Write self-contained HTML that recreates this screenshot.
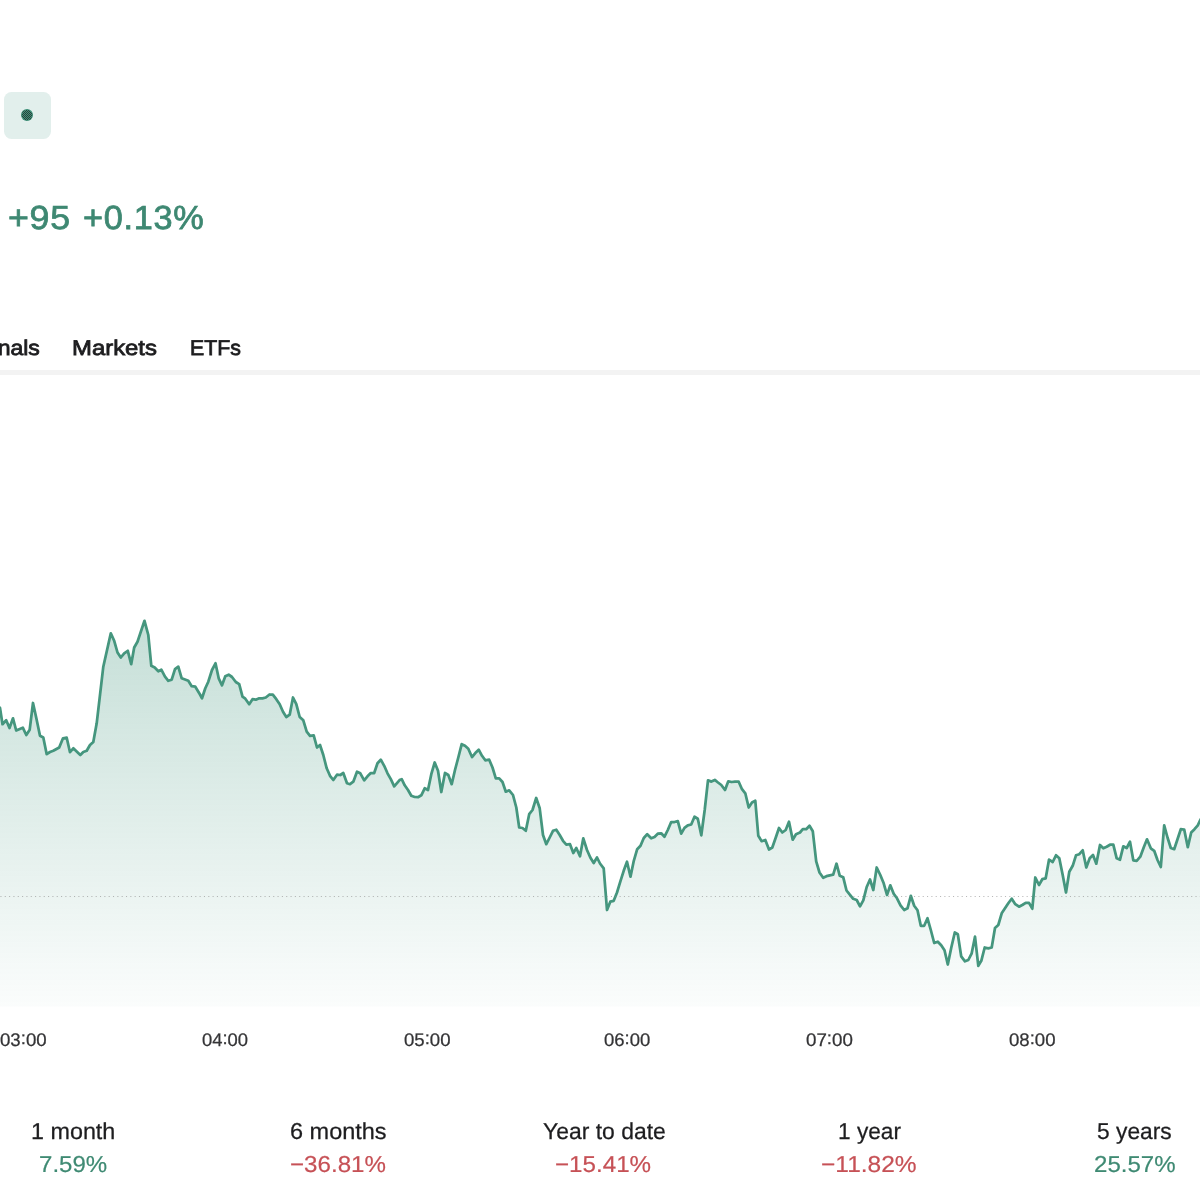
<!DOCTYPE html>
<html lang="en">
<head>
<meta charset="utf-8">
<title>Chart</title>
<style>
  html, body { margin: 0; padding: 0; background: #ffffff; }
  body { width: 1200px; height: 1200px; overflow: hidden; position: relative;
         font-family: "Liberation Sans", sans-serif; color: #1c1c1e; }
  .abs { position: absolute; white-space: nowrap; text-rendering: geometricPrecision; }
  #L { position: absolute; left: 0; top: 0; width: 1200px; height: 1200px; will-change: transform; }
  .badge { left: 4px; top: 92px; width: 47px; height: 46.7px; border-radius: 7.5px; background: #e2efec; }
  .badge i { position: absolute; left: 17.5px; top: 17.7px; width: 11.6px; height: 11.6px; border-radius: 50%; background: #3a6c5e; }
  .change { top: 199.6px; letter-spacing: 0.7px; font-size: 33.4px; line-height: 37px; color: #3e8872; -webkit-text-stroke: 0.75px #3e8872; transform-origin: 0 50%; }
  .tab { top: 336px; font-size: 21.3px; line-height: 24px; color: #1d1d1f; -webkit-text-stroke: 0.8px #1d1d1f; transform-origin: 0 50%; }
  .rule { left: 0; top: 370px; width: 1200px; height: 5px; background: #f3f3f3; }
  .tick { top: 1029.5px; transform-origin: 0 50%; font-size: 18.2px; line-height: 20px; color: #343436; -webkit-text-stroke: 0.25px #343436; }
  .tick b { font-weight: normal; position: relative; top: -1.7px; }
      .lab { top: 1119.2px; transform-origin: 0 50%; font-size: 23px; line-height: 24px; color: #1d1d1f; -webkit-text-stroke: 0.25px #1d1d1f; }
  .val { top: 1152.1px; transform-origin: 0 50%; font-size: 23px; line-height: 24px; }
  .g { color: #3f8a73; -webkit-text-stroke: 0.2px #3f8a73; }
  .r { color: #c65156; -webkit-text-stroke: 0.2px #c65156; }
  svg { position: absolute; left: 0; top: 0; }
</style>
</head>
<body>
<div id="L">
<div class="abs badge"><svg width="14" height="14" viewBox="0 0 14 14" style="left:16.45px;top:15.9px">
  <defs><pattern id="dz" width="2" height="2" patternUnits="userSpaceOnUse"><rect width="2" height="2" fill="#3f947b"/><rect x="0" y="0" width="1" height="1" fill="#2b3e39" shape-rendering="crispEdges"/><rect x="1" y="1" width="1" height="1" fill="#2b3e39" shape-rendering="crispEdges"/></pattern></defs>
  <circle cx="7" cy="7" r="6" fill="#3f947b"/><circle cx="7" cy="7" r="5.3" fill="url(#dz)"/></svg></div>

<div class="abs tab" id="t1" style="right:1160px;transform-origin:100% 50%;transform:scaleX(1.08)">Signals</div>
<div class="abs rule"></div>

<svg width="1200" height="1200" viewBox="0 0 1200 1200">
  <defs>
    <linearGradient id="fill" gradientUnits="userSpaceOnUse" x1="0" y1="620" x2="0" y2="1006.5">
      <stop offset="0" stop-color="#3f947b" stop-opacity="0.30"/>
      <stop offset="1" stop-color="#3f947b" stop-opacity="0.022"/>
    </linearGradient>
  </defs>
  <path d="M-2.0,706.0 L0.0,708.0 L2.5,724.2 L6.2,720.3 L9.5,728.0 L13.0,718.3 L16.2,730.5 L22.8,727.7 L26.3,735.0 L29.7,729.7 L33.0,703.0 L36.5,719.0 L40.0,735.8 L43.3,737.5 L46.7,754.2 L50.0,752.0 L53.3,750.8 L59.2,747.5 L63.0,738.3 L66.7,737.7 L70.0,752.2 L73.3,748.3 L80.3,755.0 L83.3,752.0 L86.7,750.8 L90.0,745.0 L93.3,742.0 L96.7,723.3 L103.3,666.7 L110.8,633.3 L114.2,640.8 L117.5,652.5 L120.8,657.5 L124.2,653.3 L127.8,650.8 L131.2,664.2 L134.2,647.5 L137.5,641.7 L144.5,620.8 L148.3,635.0 L151.3,665.8 L154.7,667.5 L158.3,671.3 L161.3,669.7 L165.0,676.7 L168.3,680.8 L171.7,679.7 L175.0,669.2 L178.3,666.7 L181.7,678.3 L188.3,680.8 L191.7,686.2 L195.3,686.7 L200.0,694.5 L202.0,698.3 L205.3,688.3 L208.3,681.7 L212.0,670.0 L215.5,663.3 L218.7,678.3 L222.0,685.3 L225.3,676.3 L228.7,674.7 L232.0,677.0 L235.8,682.0 L239.2,684.2 L242.5,696.7 L245.3,698.7 L249.2,704.2 L252.5,699.2 L255.8,699.7 L259.2,698.3 L262.5,698.3 L265.8,697.5 L269.5,694.5 L272.8,694.7 L276.3,699.2 L279.7,704.2 L283.0,711.7 L286.3,717.0 L289.7,714.7 L293.0,697.5 L296.3,704.2 L299.7,717.0 L303.3,720.3 L306.7,731.7 L310.0,735.8 L313.7,735.3 L317.0,747.5 L320.0,745.0 L323.3,755.0 L326.7,768.3 L330.0,775.8 L333.3,780.0 L337.0,774.7 L340.3,775.0 L343.3,773.0 L347.0,783.3 L350.0,784.2 L353.3,781.7 L357.0,771.7 L360.3,773.3 L364.2,780.3 L367.5,776.3 L370.8,773.0 L374.2,773.0 L377.5,763.3 L380.8,759.7 L384.2,765.8 L387.5,773.3 L390.8,779.2 L394.2,786.3 L400.0,779.7 L401.7,779.2 L404.7,785.3 L408.0,790.0 L411.3,795.8 L414.7,797.0 L418.0,797.2 L421.3,795.3 L424.7,788.3 L428.0,790.0 L431.3,774.2 L434.7,762.5 L438.0,770.8 L441.3,792.0 L445.0,773.0 L448.3,775.0 L451.7,784.2 L455.0,770.0 L458.3,757.5 L461.7,744.2 L465.0,745.8 L468.3,748.7 L472.0,757.0 L475.3,753.0 L478.7,749.7 L482.0,755.8 L485.3,760.3 L489.2,759.7 L492.5,767.5 L495.8,778.3 L499.2,778.3 L502.5,782.0 L505.8,791.7 L509.2,790.3 L513.0,795.0 L516.3,807.5 L519.2,827.5 L522.5,828.0 L525.8,830.8 L529.2,814.2 L532.5,810.0 L536.2,798.0 L539.7,808.3 L543.0,835.0 L546.3,844.2 L549.7,837.5 L553.0,830.8 L556.3,829.7 L559.7,835.0 L563.0,840.8 L566.3,844.7 L570.0,844.2 L573.3,853.0 L576.3,848.0 L580.0,856.3 L583.3,838.3 L587.0,850.0 L590.3,857.5 L593.7,863.0 L597.0,857.5 L600.0,863.5 L603.7,868.3 L607.0,910.0 L610.3,901.7 L613.7,900.8 L617.0,892.5 L620.3,881.7 L623.7,870.8 L627.0,861.7 L630.5,876.7 L633.8,860.8 L637.2,849.2 L640.5,845.8 L643.8,838.0 L647.2,834.2 L651.2,838.3 L654.5,837.0 L657.8,833.7 L661.2,833.3 L664.5,836.7 L667.8,830.0 L671.2,822.0 L674.5,822.0 L677.8,821.2 L681.2,833.7 L684.5,827.8 L687.8,825.3 L691.2,824.5 L694.5,816.7 L697.8,818.7 L701.3,835.3 L704.7,810.0 L708.0,780.3 L711.4,781.6 L714.8,779.9 L718.0,782.5 L721.3,785.0 L725.0,790.0 L728.3,781.3 L731.7,782.0 L735.0,781.7 L738.7,781.7 L742.0,789.2 L745.3,793.3 L748.7,807.5 L752.0,802.5 L755.3,800.8 L758.3,835.8 L761.7,841.2 L765.3,840.0 L769.0,849.5 L772.3,847.5 L775.7,837.8 L779.0,828.0 L782.3,832.5 L785.7,830.0 L789.0,821.7 L792.7,839.7 L796.0,834.2 L800.0,832.5 L802.8,829.2 L806.2,829.2 L809.5,825.8 L812.8,831.3 L816.2,861.3 L819.5,872.5 L823.2,877.8 L826.5,876.2 L829.8,875.3 L833.2,874.7 L836.5,863.7 L839.8,875.8 L843.2,877.2 L846.5,890.5 L849.8,894.7 L853.2,898.8 L856.7,900.0 L860.0,906.3 L863.3,900.3 L866.7,887.0 L870.0,879.5 L873.3,890.0 L876.7,867.5 L880.3,875.0 L883.7,883.3 L887.0,895.0 L890.3,885.3 L893.7,893.7 L897.0,898.3 L900.5,905.3 L904.2,910.0 L907.5,908.3 L910.8,895.8 L914.2,905.8 L917.5,910.3 L920.8,925.8 L924.2,925.8 L927.5,918.3 L930.8,930.0 L934.2,943.0 L937.8,941.7 L941.2,945.3 L944.5,950.3 L947.8,964.5 L951.2,948.0 L954.8,932.5 L957.8,934.2 L961.2,956.3 L965.0,961.3 L968.3,960.0 L971.7,953.3 L975.0,936.7 L978.3,965.8 L981.3,960.8 L984.7,947.5 L988.3,948.3 L991.7,947.5 L995.0,928.0 L998.3,925.0 L1001.7,913.3 L1005.0,908.3 L1008.3,903.3 L1011.7,898.7 L1015.3,904.2 L1019.0,906.7 L1022.3,905.0 L1025.7,902.8 L1029.0,902.8 L1032.3,908.7 L1035.3,877.5 L1039.0,885.0 L1042.3,879.2 L1045.7,878.3 L1049.0,859.7 L1052.7,862.0 L1056.0,855.3 L1059.3,858.3 L1062.7,875.0 L1066.0,892.5 L1069.3,871.7 L1072.7,865.8 L1076.0,855.3 L1079.3,854.2 L1082.7,850.3 L1086.3,867.5 L1089.7,858.3 L1093.0,855.0 L1096.3,863.7 L1100.0,845.0 L1103.3,848.3 L1106.7,846.7 L1110.0,844.7 L1113.3,844.7 L1116.7,858.3 L1120.0,859.7 L1123.3,846.3 L1126.7,848.0 L1130.0,841.7 L1133.3,860.3 L1136.7,860.8 L1140.3,856.7 L1143.7,847.5 L1147.0,839.3 L1150.8,848.3 L1154.2,850.8 L1157.5,860.0 L1160.8,867.0 L1164.2,825.4 L1167.5,837.5 L1170.8,848.0 L1174.2,849.2 L1177.5,839.2 L1180.8,829.2 L1184.2,829.5 L1187.8,847.2 L1191.2,832.5 L1194.5,829.2 L1197.8,825.3 L1200.0,820.6 L1203.0,815.0 L1203,1006.5 L-2,1006.5 Z" fill="url(#fill)" stroke="none"/>
  <path d="M-2.0,706.0 L0.0,708.0 L2.5,724.2 L6.2,720.3 L9.5,728.0 L13.0,718.3 L16.2,730.5 L22.8,727.7 L26.3,735.0 L29.7,729.7 L33.0,703.0 L36.5,719.0 L40.0,735.8 L43.3,737.5 L46.7,754.2 L50.0,752.0 L53.3,750.8 L59.2,747.5 L63.0,738.3 L66.7,737.7 L70.0,752.2 L73.3,748.3 L80.3,755.0 L83.3,752.0 L86.7,750.8 L90.0,745.0 L93.3,742.0 L96.7,723.3 L103.3,666.7 L110.8,633.3 L114.2,640.8 L117.5,652.5 L120.8,657.5 L124.2,653.3 L127.8,650.8 L131.2,664.2 L134.2,647.5 L137.5,641.7 L144.5,620.8 L148.3,635.0 L151.3,665.8 L154.7,667.5 L158.3,671.3 L161.3,669.7 L165.0,676.7 L168.3,680.8 L171.7,679.7 L175.0,669.2 L178.3,666.7 L181.7,678.3 L188.3,680.8 L191.7,686.2 L195.3,686.7 L200.0,694.5 L202.0,698.3 L205.3,688.3 L208.3,681.7 L212.0,670.0 L215.5,663.3 L218.7,678.3 L222.0,685.3 L225.3,676.3 L228.7,674.7 L232.0,677.0 L235.8,682.0 L239.2,684.2 L242.5,696.7 L245.3,698.7 L249.2,704.2 L252.5,699.2 L255.8,699.7 L259.2,698.3 L262.5,698.3 L265.8,697.5 L269.5,694.5 L272.8,694.7 L276.3,699.2 L279.7,704.2 L283.0,711.7 L286.3,717.0 L289.7,714.7 L293.0,697.5 L296.3,704.2 L299.7,717.0 L303.3,720.3 L306.7,731.7 L310.0,735.8 L313.7,735.3 L317.0,747.5 L320.0,745.0 L323.3,755.0 L326.7,768.3 L330.0,775.8 L333.3,780.0 L337.0,774.7 L340.3,775.0 L343.3,773.0 L347.0,783.3 L350.0,784.2 L353.3,781.7 L357.0,771.7 L360.3,773.3 L364.2,780.3 L367.5,776.3 L370.8,773.0 L374.2,773.0 L377.5,763.3 L380.8,759.7 L384.2,765.8 L387.5,773.3 L390.8,779.2 L394.2,786.3 L400.0,779.7 L401.7,779.2 L404.7,785.3 L408.0,790.0 L411.3,795.8 L414.7,797.0 L418.0,797.2 L421.3,795.3 L424.7,788.3 L428.0,790.0 L431.3,774.2 L434.7,762.5 L438.0,770.8 L441.3,792.0 L445.0,773.0 L448.3,775.0 L451.7,784.2 L455.0,770.0 L458.3,757.5 L461.7,744.2 L465.0,745.8 L468.3,748.7 L472.0,757.0 L475.3,753.0 L478.7,749.7 L482.0,755.8 L485.3,760.3 L489.2,759.7 L492.5,767.5 L495.8,778.3 L499.2,778.3 L502.5,782.0 L505.8,791.7 L509.2,790.3 L513.0,795.0 L516.3,807.5 L519.2,827.5 L522.5,828.0 L525.8,830.8 L529.2,814.2 L532.5,810.0 L536.2,798.0 L539.7,808.3 L543.0,835.0 L546.3,844.2 L549.7,837.5 L553.0,830.8 L556.3,829.7 L559.7,835.0 L563.0,840.8 L566.3,844.7 L570.0,844.2 L573.3,853.0 L576.3,848.0 L580.0,856.3 L583.3,838.3 L587.0,850.0 L590.3,857.5 L593.7,863.0 L597.0,857.5 L600.0,863.5 L603.7,868.3 L607.0,910.0 L610.3,901.7 L613.7,900.8 L617.0,892.5 L620.3,881.7 L623.7,870.8 L627.0,861.7 L630.5,876.7 L633.8,860.8 L637.2,849.2 L640.5,845.8 L643.8,838.0 L647.2,834.2 L651.2,838.3 L654.5,837.0 L657.8,833.7 L661.2,833.3 L664.5,836.7 L667.8,830.0 L671.2,822.0 L674.5,822.0 L677.8,821.2 L681.2,833.7 L684.5,827.8 L687.8,825.3 L691.2,824.5 L694.5,816.7 L697.8,818.7 L701.3,835.3 L704.7,810.0 L708.0,780.3 L711.4,781.6 L714.8,779.9 L718.0,782.5 L721.3,785.0 L725.0,790.0 L728.3,781.3 L731.7,782.0 L735.0,781.7 L738.7,781.7 L742.0,789.2 L745.3,793.3 L748.7,807.5 L752.0,802.5 L755.3,800.8 L758.3,835.8 L761.7,841.2 L765.3,840.0 L769.0,849.5 L772.3,847.5 L775.7,837.8 L779.0,828.0 L782.3,832.5 L785.7,830.0 L789.0,821.7 L792.7,839.7 L796.0,834.2 L800.0,832.5 L802.8,829.2 L806.2,829.2 L809.5,825.8 L812.8,831.3 L816.2,861.3 L819.5,872.5 L823.2,877.8 L826.5,876.2 L829.8,875.3 L833.2,874.7 L836.5,863.7 L839.8,875.8 L843.2,877.2 L846.5,890.5 L849.8,894.7 L853.2,898.8 L856.7,900.0 L860.0,906.3 L863.3,900.3 L866.7,887.0 L870.0,879.5 L873.3,890.0 L876.7,867.5 L880.3,875.0 L883.7,883.3 L887.0,895.0 L890.3,885.3 L893.7,893.7 L897.0,898.3 L900.5,905.3 L904.2,910.0 L907.5,908.3 L910.8,895.8 L914.2,905.8 L917.5,910.3 L920.8,925.8 L924.2,925.8 L927.5,918.3 L930.8,930.0 L934.2,943.0 L937.8,941.7 L941.2,945.3 L944.5,950.3 L947.8,964.5 L951.2,948.0 L954.8,932.5 L957.8,934.2 L961.2,956.3 L965.0,961.3 L968.3,960.0 L971.7,953.3 L975.0,936.7 L978.3,965.8 L981.3,960.8 L984.7,947.5 L988.3,948.3 L991.7,947.5 L995.0,928.0 L998.3,925.0 L1001.7,913.3 L1005.0,908.3 L1008.3,903.3 L1011.7,898.7 L1015.3,904.2 L1019.0,906.7 L1022.3,905.0 L1025.7,902.8 L1029.0,902.8 L1032.3,908.7 L1035.3,877.5 L1039.0,885.0 L1042.3,879.2 L1045.7,878.3 L1049.0,859.7 L1052.7,862.0 L1056.0,855.3 L1059.3,858.3 L1062.7,875.0 L1066.0,892.5 L1069.3,871.7 L1072.7,865.8 L1076.0,855.3 L1079.3,854.2 L1082.7,850.3 L1086.3,867.5 L1089.7,858.3 L1093.0,855.0 L1096.3,863.7 L1100.0,845.0 L1103.3,848.3 L1106.7,846.7 L1110.0,844.7 L1113.3,844.7 L1116.7,858.3 L1120.0,859.7 L1123.3,846.3 L1126.7,848.0 L1130.0,841.7 L1133.3,860.3 L1136.7,860.8 L1140.3,856.7 L1143.7,847.5 L1147.0,839.3 L1150.8,848.3 L1154.2,850.8 L1157.5,860.0 L1160.8,867.0 L1164.2,825.4 L1167.5,837.5 L1170.8,848.0 L1174.2,849.2 L1177.5,839.2 L1180.8,829.2 L1184.2,829.5 L1187.8,847.2 L1191.2,832.5 L1194.5,829.2 L1197.8,825.3 L1200.0,820.6 L1203.0,815.0" fill="none" stroke="#45967e" stroke-width="2.75" stroke-linejoin="round" stroke-linecap="round"/>
  <line x1="0.4" y1="896.5" x2="1200" y2="896.5" stroke="#8e8e8e" stroke-width="1" stroke-dasharray="1.1 3.23" opacity="0.62"/>
</svg>


<div class="abs change" style="left:7.90px;transform:scaleX(1.0699)">+95</div>
<div class="abs change" style="left:83.00px;transform:scaleX(1.0267)">+0.13%</div>
<div class="abs tab" style="left:72.26px;transform:scaleX(1.1215)">Markets</div>
<div class="abs tab" style="left:190.18px;transform:scaleX(0.9979)">ETFs</div>
<div class="abs tick" style="left:-0.11px;transform:scaleX(1.0255)">03<b>:</b>00</div>
<div class="abs tick" style="left:202.38px;transform:scaleX(1.0119)">04<b>:</b>00</div>
<div class="abs tick" style="left:404.00px;transform:scaleX(1.0222)">05<b>:</b>00</div>
<div class="abs tick" style="left:604.07px;transform:scaleX(1.0180)">06<b>:</b>00</div>
<div class="abs tick" style="left:806.35px;transform:scaleX(1.0307)">07<b>:</b>00</div>
<div class="abs tick" style="left:1009.28px;transform:scaleX(1.0222)">08<b>:</b>00</div>
<div class="abs lab" style="left:31.13px;transform:scaleX(1.0148)">1 month</div>
<div class="abs val g" style="left:38.53px;transform:scaleX(1.0463)">7.59%</div>
<div class="abs lab" style="left:290.22px;transform:scaleX(1.0212)">6 months</div>
<div class="abs val r" style="left:290.28px;transform:scaleX(1.0491)">&minus;36.81%</div>
<div class="abs lab" style="left:542.89px;transform:scaleX(0.9973)">Year to date</div>
<div class="abs val r" style="left:555.08px;transform:scaleX(1.0508)">&minus;15.41%</div>
<div class="abs lab" style="left:838.00px;transform:scaleX(0.9850)">1 year</div>
<div class="abs val r" style="left:821.44px;transform:scaleX(1.0659)">&minus;11.82%</div>
<div class="abs lab" style="left:1097.00px;transform:scaleX(0.9907)">5 years</div>
<div class="abs val g" style="left:1094.00px;transform:scaleX(1.0457)">25.57%</div>
</div>
</body>
</html>
